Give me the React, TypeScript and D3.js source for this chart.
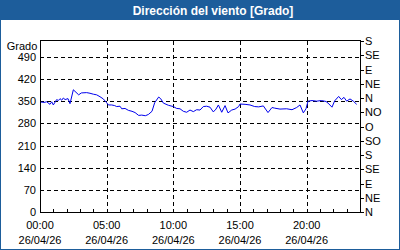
import React from "react";
import * as d3 from "d3";

const TITLE = "Dirección del viento [Grado]";
const Y_LABEL = "Grado";
const HOURS = [0,0.15,0.3,0.5,0.75,0.88,1.0,1.25,1.38,1.5,1.63,1.75,1.88,2.1,2.25,2.5,2.7,2.9,3.1,3.5,3.75,4.0,4.25,4.5,4.75,5.0,5.13,5.38,5.6,5.75,6.0,6.13,6.38,6.63,6.9,7.13,7.4,7.63,7.9,8.13,8.4,8.6,8.9,9.05,9.25,9.63,10.0,10.25,10.5,10.75,11.0,11.25,11.5,11.75,12.0,12.25,12.5,12.75,13.0,13.2,13.38,13.63,13.88,14.1,14.38,14.63,14.9,15.0,15.38,15.75,16.1,16.4,16.75,17.1,17.4,17.6,18.0,18.5,18.9,19.25,19.5,19.75,19.95,20.1,20.4,20.75,21.1,21.45,21.6,21.9,22.1,22.4,22.6,22.8,23.0,23.25,23.5,23.75];
const VALUES = [347,347,346,348,340,348,338,355,352,358,353,360,355,358,342,386,378,370,376,377,375,372,370,364,357,345,338,338,336,333,334,326,327,321,318,314,305,306,304,308,318,345,363,358,344,337,333,327,326,318,315,322,317,323,322,333,334,331,316,325,338,315,336,313,322,325,333,341,340,338,333,332,335,314,330,328,325,326,323,330,338,313,326,350,352,350,352,349,344,331,351,365,355,362,350,357,350,340];
const Y_TICKS = [0,70,140,210,280,350,420,490];
const X_TICKS = [0,5,10,15,20];
const X_LABELS = ["00:00","05:00","10:00","15:00","20:00"];
const DATE_LABEL = "26/04/26";
const DIR_TICKS = [0,45,90,135,180,225,270,315,360,405,450,495,540];
const DIR_LABELS = ["N","NE","E","SE","S","SO","O","NO","N","NE","E","SE","S"];

const W = 400, H = 250;
const BLUE = "#1d5d9b";
const FONT = "Liberation Sans, Arial, sans-serif";

export default function App() {
  const L = 40, R = 360, T = 41, B = 212;
  const x = d3.scaleLinear().domain([0, 24]).range([L, R]);
  const y = d3.scaleLinear().domain([0, 540]).range([B, T]);
  const line = d3.line<number>().x((_, i) => x(HOURS[i])).y((d) => y(d));
  const path = line(VALUES) || "";
  const hourTicks = d3.range(0, 25);
  return (
    <svg width={W} height={H} style={{ position: "absolute", left: 0, top: 0 }} fontFamily={FONT}>
      <rect x={0} y={0} width={W} height={H} fill={BLUE} />
      <rect x={1} y={20} width={W - 2} height={H - 21} fill="#ffffff" />
      <text x={213} y={14.5} textAnchor="middle" fill="#ffffff" fontWeight="bold" fontSize={12}>{TITLE}</text>
      {Y_TICKS.filter((t) => t > 0).map((t) => (
        <line key={"gy" + t} x1={L} x2={R} y1={Math.round(y(t)) + 0.5} y2={Math.round(y(t)) + 0.5} stroke="#000" strokeDasharray="4,3" />
      ))}
      {X_TICKS.filter((t) => t > 0).map((t) => (
        <line key={"gx" + t} x1={Math.round(x(t)) + 0.5} x2={Math.round(x(t)) + 0.5} y1={T} y2={B} stroke="#000" strokeDasharray="4,3" />
      ))}
      <path d={path} fill="none" stroke="#0000ee" strokeWidth={1} />
      <rect x={L + 0.5} y={T - 0.5} width={R - L} height={B - T + 1} fill="none" stroke="#000" />
      {hourTicks.map((h) => (
        <line key={"ht" + h} x1={Math.round(x(h)) + 0.5} x2={Math.round(x(h)) + 0.5} y1={B} y2={B - 3} stroke="#000" />
      ))}
      {Y_TICKS.map((t) => (
        <text key={"yl" + t} x={36} y={y(t) + 4} textAnchor="end" fontSize={11} fill="#000">{t}</text>
      ))}
      <text x={22} y={50} textAnchor="middle" fontSize={11} fill="#000">{Y_LABEL}</text>
      {DIR_TICKS.map((t, i) => (
        <g key={"d" + i}>
          <line x1={R} x2={R + 4} y1={Math.round(y(t)) + 0.5} y2={Math.round(y(t)) + 0.5} stroke="#000" />
          <text x={R + 5} y={y(t) + 4} fontSize={11} fill="#000">{DIR_LABELS[i]}</text>
        </g>
      ))}
      {X_TICKS.map((t, i) => (
        <g key={"xl" + t}>
          <text x={x(t)} y={229} textAnchor="middle" fontSize={11} fill="#000">{X_LABELS[i]}</text>
          <text x={x(t)} y={244} textAnchor="middle" fontSize={11} fill="#000">{DATE_LABEL}</text>
        </g>
      ))}
    </svg>
  );
}
